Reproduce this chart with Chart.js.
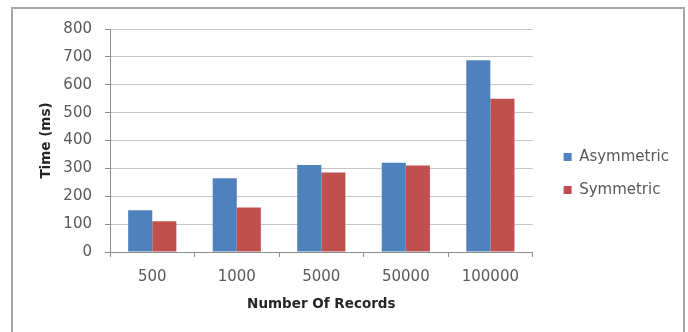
<!DOCTYPE html>
<html>
<head>
<meta charset="utf-8">
<title>Time vs Number Of Records</title>
<script src="https://cdn.jsdelivr.net/npm/chart.js@4/dist/chart.umd.min.js"></script>
<style>
  html, body { margin: 0; padding: 0; background: #ffffff; overflow: hidden; }
  #wrap { width: 688px; height: 332px; position: relative; }
  canvas { display: block; }
</style>
</head>
<body>
<div id="wrap"><canvas id="chart" width="688" height="332"></canvas></div>
<script>
// Categories on the x axis
const categories = ['500', '1000', '5000', '50000', '100000'];
// Time in milliseconds for each series
const asymmetric = [150, 265, 312, 320, 688];
const symmetric = [110, 160, 285, 310, 550];
// Value axis range and step
const yMin = 0;
const yMax = 800;
const yStep = 100;

const FONT = '"DejaVu Sans", "Open Sans", sans-serif';
const TEXT = '#595959';

// White background and a thin frame (top, left, right) around the chart
const framePlugin = {
  id: 'frame',
  beforeDraw(chart) {
    const ctx = chart.ctx;
    ctx.save();
    ctx.fillStyle = '#ffffff';
    ctx.fillRect(0, 0, chart.width, chart.height);
    ctx.restore();
  },
  afterDraw(chart) {
    const ctx = chart.ctx;
    const l = 12, t = 8, r = chart.width - 4, b = chart.height;
    ctx.save();
    ctx.strokeStyle = '#a6a6a6';
    ctx.lineWidth = 2;
    ctx.beginPath();
    ctx.moveTo(l, b);
    ctx.lineTo(l, t);
    ctx.lineTo(r, t);
    ctx.lineTo(r, b);
    ctx.stroke();
    ctx.restore();
  }
};

new Chart(document.getElementById('chart'), {
  type: 'bar',
  data: {
    labels: categories,
    datasets: [
      {
        label: 'Asymmetric',
        data: asymmetric,
        backgroundColor: '#4f81bd',
        borderWidth: 0,
        categoryPercentage: 0.57,
        barPercentage: 1.0
      },
      {
        label: 'Symmetric',
        data: symmetric,
        backgroundColor: '#c0504d',
        borderWidth: 0,
        categoryPercentage: 0.57,
        barPercentage: 1.0
      }
    ]
  },
  options: {
    responsive: false,
    animation: false,
    devicePixelRatio: 1,
    layout: { padding: { left: 12, top: 29, right: 9, bottom: 14 } },
    plugins: {
      tooltip: { enabled: false },
      legend: {
        position: 'right',
        maxWidth: 200,
        labels: {
          boxWidth: 8,
          boxHeight: 8,
          padding: 18,
          color: TEXT,
          font: { family: FONT, size: 15 }
        }
      }
    },
    scales: {
      x: {
        grid: {
          display: true,
          drawOnChartArea: false,
          drawTicks: true,
          tickLength: 5,
          color: '#8c8c8c'
        },
        border: { display: true, color: '#8c8c8c' },
        ticks: {
          color: TEXT,
          padding: 11,
          font: { family: FONT, size: 15 }
        },
        title: {
          display: true,
          text: 'Number Of Records',
          color: '#262626',
          padding: { top: 0, bottom: 5 },
          font: { family: FONT, size: 13.5, weight: 'bold' }
        },
        afterFit(scale) {
          scale.height = 332 - 14 - 252;
        }
      },
      y: {
        min: yMin,
        max: yMax,
        ticks: {
          stepSize: yStep,
          color: TEXT,
          padding: 13,
          font: { family: FONT, size: 15 }
        },
        grid: {
          color: '#c4c4c4',
          tickColor: '#8c8c8c',
          tickLength: 5
        },
        border: { display: true, color: '#8c8c8c' },
        title: {
          display: true,
          text: 'Time (ms)',
          color: '#262626',
          padding: { top: 26, bottom: 0 },
          font: { family: FONT, size: 13.5, weight: 'bold' }
        },
        afterFit(scale) {
          scale.width = 110 - 12;
        }
      },
      gap: {
        position: 'right',
        display: true,
        grid: { display: false },
        border: { display: false },
        ticks: { display: false },
        afterFit(scale) {
          scale.width = 13;
        }
      }
    }
  },
  plugins: [framePlugin]
});
</script>
</body>
</html>
